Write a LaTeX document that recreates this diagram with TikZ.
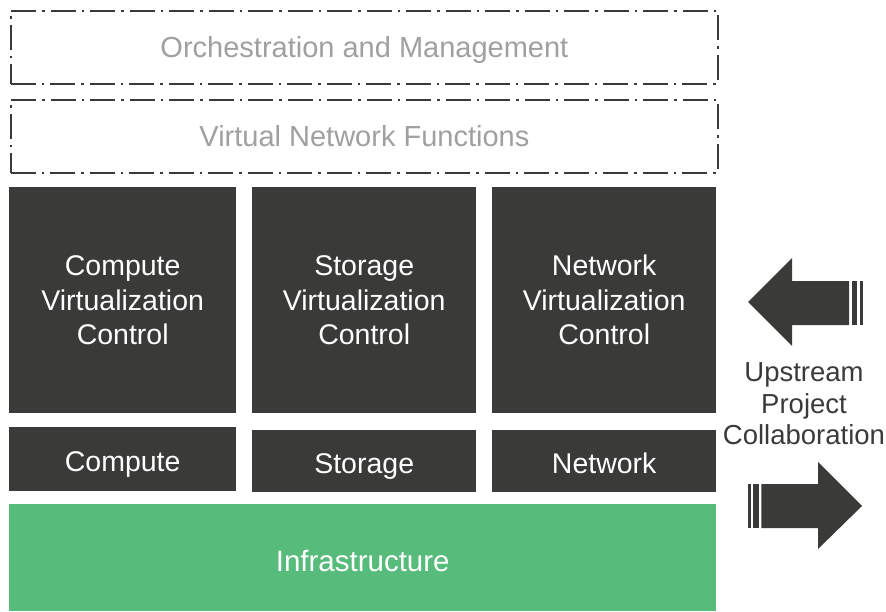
\documentclass[tikz,border=0pt]{standalone}
\usepackage{fontspec}
\setmainfont{Liberation Sans}
\definecolor{darkbox}{HTML}{3A3B39}
\definecolor{greenbox}{HTML}{57BB7B}
\definecolor{lightgray}{HTML}{A0A0A0}
\tikzset{
  dashbox/.style={draw=darkbox, line width=1.8pt, dash pattern=on 25pt off 6pt on 2.5pt off 6pt, fill=white, text=lightgray, font=\fontsize{29}{34}\selectfont, anchor=north west, inner sep=0pt, text height=20.8pt, text depth=0pt},
  darkbox/.style={fill=darkbox, draw=none, text=white, font=\fontsize{28.5}{34.5}\selectfont, align=center, anchor=north west, inner sep=0pt},
  onerow/.style={text height=24pt, text depth=0pt},
  greenbox/.style={fill=greenbox, draw=none, text=white, font=\fontsize{29.5}{34}\selectfont, anchor=north west, inner sep=0pt, text height=27pt, text depth=0pt},
  bigarrow/.style={fill=darkbox, draw=none},
  sidetext/.style={text=darkbox, font=\fontsize{27.5}{31.5}\selectfont, align=center}
}
\begin{document}
\begin{tikzpicture}[x=1pt,y=-1pt]
\useasboundingbox (0,0) rectangle (886,611);
% dashed boxes
\node[dashbox, minimum width=707pt, minimum height=73pt] (orch) at (10,10) {Orchestration and Management};
\node[dashbox, minimum width=707pt, minimum height=73pt] (vnf) at (10,99) {Virtual Network Functions};
% virtualization controls
\node[darkbox, minimum width=227pt, minimum height=226pt] (cvc) at (9,187) {Compute\\Virtualization\\Control};
\node[darkbox, minimum width=224pt, minimum height=226pt] (svc) at (252,187) {Storage\\Virtualization\\Control};
\node[darkbox, minimum width=224pt, minimum height=226pt] (nvc) at (492,187) {Network\\Virtualization\\Control};
% resources
\node[darkbox, onerow, minimum width=227pt, minimum height=64pt] (comp) at (9,427) {Compute};
\node[darkbox, onerow, minimum width=224pt, minimum height=62pt] (stor) at (252,430) {Storage};
\node[darkbox, onerow, minimum width=224pt, minimum height=62pt] (net) at (492,430) {Network};
% infrastructure
\node[greenbox, minimum width=707pt, minimum height=107pt] (infra) at (9,504) {Infrastructure};
% arrows
\path[bigarrow] (748,302) -- (792,258) -- (792,281) -- (849,281) -- (849,325) -- (792,325) -- (792,346) -- cycle;
\path[bigarrow] (851.5,281) rectangle (857.3,325);
\path[bigarrow] (860,281) rectangle (863,325);
\path[bigarrow] (862,506) -- (818,462) -- (818,484) -- (761.3,484) -- (761.3,528) -- (818,528) -- (818,549) -- cycle;
\path[bigarrow] (753.3,484) rectangle (759,528);
\path[bigarrow] (748,484) rectangle (751,528);
\node[sidetext] (up) at (804,404) {Upstream\\Project\\Collaboration};
\end{tikzpicture}
\end{document}
